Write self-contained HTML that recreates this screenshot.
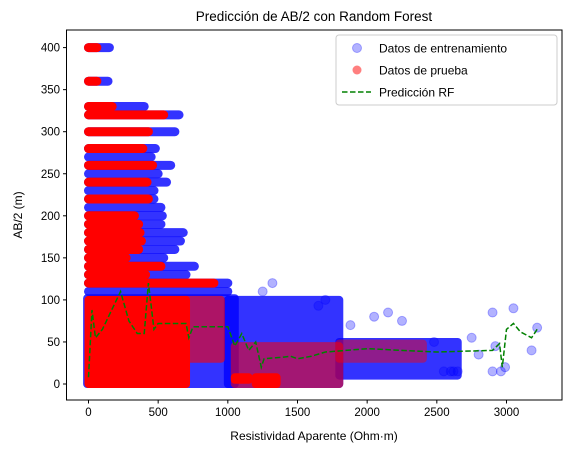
<!DOCTYPE html>
<html><head><meta charset="utf-8"><style>
body{margin:0;background:#fff;}
svg text{font-family:"Liberation Sans",sans-serif;fill:#000;}
</style></head><body>
<svg id="chart" width="571" height="453" viewBox="0 0 571 453" xmlns="http://www.w3.org/2000/svg">
<text x="314" y="21" font-size="13.5" text-anchor="middle">Predicción de AB/2 con Random Forest</text>
<defs><clipPath id="clip"><rect x="66.5" y="30" width="495.5" height="370"/></clipPath></defs>
<g id="plot" clip-path="url(#clip)"></g>
<rect x="66.5" y="30" width="495.5" height="370" fill="none" stroke="#000" stroke-width="1"/>
<g id="axes"></g>
<text x="314" y="440" font-size="12" text-anchor="middle">Resistividad Aparente (Ohm·m)</text>
<text transform="translate(22,215) rotate(-90)" font-size="12" text-anchor="middle">AB/2 (m)</text>
<g>
<rect x="336" y="35" width="221" height="70" rx="3" fill="#fff" fill-opacity="0.8" stroke="#ccc"/>
<circle cx="357" cy="48" r="4.5" fill="blue" fill-opacity="0.3" stroke="blue" stroke-opacity="0.3"/>
<text x="379" y="52.5" font-size="12">Datos de entrenamiento</text>
<circle cx="357" cy="70" r="4.5" fill="red" fill-opacity="0.5"/>
<text x="379" y="74.5" font-size="12">Datos de prueba</text>
<line x1="342" y1="92" x2="371" y2="92" stroke="green" stroke-width="1.5" stroke-dasharray="5.5,2.5"/>
<text x="379" y="96.5" font-size="12">Predicción RF</text>
</g>
</svg>
<script>
// Tick values
const xTicks=[0,500,1000,1500,2000,2500,3000];
const yTicks=[0,50,100,150,200,250,300,350,400];
// Training bands: [AB/2 level, max resistivity]
const trainLevels=[400,360,330,320,300,280,270,260,250,240,230,220,210,200,190,180,170,160,150,140,130,120,110];
const trainMax=[150,140,400,650,620,480,450,590,500,560,470,470,520,530,520,680,660,620,540,760,700,1000,1000];
// Test bands
const testLevels=[400,360,330,320,300,280,260,240,220,200,190,180,170,160,150,140,130,120];
const testMax=[60,60,170,540,430,390,460,420,430,330,360,370,380,360,270,520,410,900];
// Dense regions: [xmin,xmax,ymin,ymax]
const trainBlocks=[[-10,1050,0,102],[1000,1800,0,100],[1800,2650,10,50]];
const testBlocks=[[0,700,0,100],[700,950,30,100],[1050,1800,0,45],[1800,2400,30,48],[1200,1350,0,8],[1050,1150,5,8]];
const testOpacity=[1,0.6,0.55,0.45,1,1];
// Outlying training points
const trainOutX=[1320,1250,1650,1700,1880,2050,2150,2250,2480,2600,2650,2750,2800,2900,2920,2960,2990,3050,3180,3220,2550,2620,2900];
const trainOutY=[120,110,93,100,70,80,85,75,50,15,15,55,35,85,45,15,20,90,40,67,15,15,15];
// Prediction line
const predX=[0,25,50,100,230,290,350,400,430,470,500,700,720,750,1000,1050,1100,1150,1200,1240,1260,1400,1450,1500,1600,1700,2000,2500,2900,2950,2970,3000,3050,3100,3180,3220];
const predY=[8,88,55,65,110,75,60,60,120,65,72,72,55,68,68,45,60,40,50,20,30,32,33,30,33,38,42,38,40,48,20,65,72,62,55,65];

const NS="http://www.w3.org/2000/svg";
const X=v=>88.5+v*0.13933;
const Y=v=>384-v*0.841;
const plot=document.getElementById('plot'), axes=document.getElementById('axes');
function mk(tag,attrs,parent){const e=document.createElementNS(NS,tag);for(const k in attrs)e.setAttribute(k,attrs[k]);parent.appendChild(e);return e;}

xTicks.forEach(t=>{
  const l=mk('line',{x1:X(t),x2:X(t),y1:400,y2:403.5,stroke:'#000'},axes);
  
  
  const tx=mk('text',{x:X(t),y:416,'font-size':11.5,'text-anchor':'middle'},axes);tx.textContent=t;
  
  
});
yTicks.forEach(t=>{
  const l=mk('line',{x1:63,x2:66.5,y1:Y(t),y2:Y(t),stroke:'#000'},axes);
  
  
  const tx=mk('text',{x:60,y:Y(t)+4,'font-size':11.5,'text-anchor':'end'},axes);tx.textContent=t;
  
  
});

function block(b,color,op,name){
  const r=mk('rect',{x:X(b[0])-4,y:Y(b[3])-4,width:X(b[1])-X(b[0])+8,height:Y(b[2])-Y(b[3])+8,rx:4,fill:color,'fill-opacity':op},plot);
  
  
}
function band(lv,mx,color,op,name){
  const l=mk('line',{x1:X(0),x2:X(mx),y1:Y(lv),y2:Y(lv),stroke:color,'stroke-opacity':op,'stroke-width':9,'stroke-linecap':'round'},plot);
  
  
}
trainBlocks.forEach(b=>block(b,'blue',0.8,'train-cloud'));
trainLevels.forEach((lv,i)=>band(lv,trainMax[i],'blue',0.8,'train-band'));
trainOutX.forEach((x,i)=>{
  const c=mk('circle',{cx:X(x),cy:Y(trainOutY[i]),r:4.5,fill:'blue','fill-opacity':0.3,stroke:'blue','stroke-opacity':0.3},plot);
  
  
});
testBlocks.forEach((b,i)=>block(b,'red',testOpacity[i],'test-cloud'));
testLevels.forEach((lv,i)=>band(lv,testMax[i],'red',1,'test-band'));
const pts=predX.map((x,i)=>X(x)+','+Y(predY[i])).join(' ');
const pl=mk('polyline',{points:pts,fill:'none',stroke:'green','stroke-width':1.5,'stroke-dasharray':'5.5,2.5'},plot);


</script>
</body></html>
